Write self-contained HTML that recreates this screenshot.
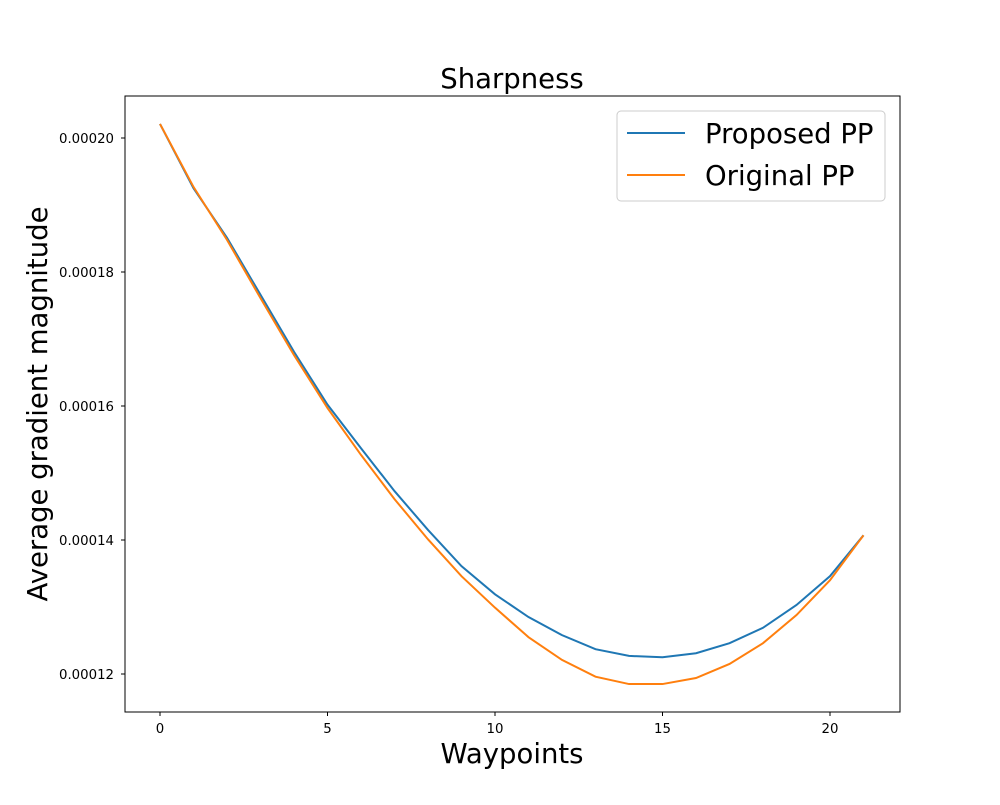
<!DOCTYPE html>
<html><head><meta charset="utf-8"><style>
body{margin:0;background:#fff;}
svg{font-family:"DejaVu Sans","Liberation Sans",sans-serif;}
</style></head><body>
<svg id="chart" width="1000" height="800">
<rect width="1000" height="800" fill="#fff"/>
<text x="512" y="88" font-size="27.5" text-anchor="middle">Sharpness</text>
<text x="512" y="763" font-size="27.5" text-anchor="middle">Waypoints</text>
<text transform="translate(47,404) rotate(-90)" font-size="27.5" text-anchor="middle">Average gradient magnitude</text>
<g id="ticks"></g>
<g id="lines"></g>
<rect x="125" y="96" width="775" height="616" fill="none" stroke="#000" stroke-width="1"/>
<g>
<rect x="617" y="111" width="268" height="90" rx="4" fill="#fff" stroke="#ccc"/>
<line x1="627" y1="133" x2="685" y2="133" stroke="#1f77b4" stroke-width="2"/>
<text x="705" y="143" font-size="27.5">Proposed PP</text>
<line x1="627" y1="175" x2="685" y2="175" stroke="#ff7f0e" stroke-width="2"/>
<text x="705" y="185" font-size="27.5">Original PP</text>
</g>
</svg>
<script>
const waypoints=[0,1,2,3,4,5,6,7,8,9,10,11,12,13,14,15,16,17,18,19,20,21];
const proposed=[202.1e-6,192.5e-6,185.1e-6,176.6e-6,168.1e-6,160.2e-6,153.7e-6,147.3e-6,141.5e-6,136.1e-6,131.9e-6,128.5e-6,125.8e-6,123.7e-6,122.7e-6,122.5e-6,123.1e-6,124.6e-6,126.9e-6,130.3e-6,134.6e-6,140.7e-6];
const original=[202.1e-6,192.7e-6,184.8e-6,176.1e-6,167.6e-6,159.7e-6,152.7e-6,146.1e-6,140.1e-6,134.6e-6,129.9e-6,125.5e-6,122.1e-6,119.6e-6,118.5e-6,118.5e-6,119.4e-6,121.5e-6,124.6e-6,128.8e-6,134.0e-6,140.7e-6];
const xTicks=[0,5,10,15,20];
const yTicks=[0.00012,0.00014,0.00016,0.00018,0.00020];
const yTickLabels=["0.00012","0.00014","0.00016","0.00018","0.00020"];
const NS="http://www.w3.org/2000/svg";
function xs(v){return 160+v*33.5;}
function ys(v){return 674-(v-0.00012)/0.00002*134;}
const tg=document.getElementById('ticks');
xTicks.forEach(t=>{
 const l=document.createElementNS(NS,'line');
 l.setAttribute('x1',xs(t));l.setAttribute('x2',xs(t));l.setAttribute('y1',712);l.setAttribute('y2',716);l.setAttribute('stroke','#000');
 
 
 tg.appendChild(l);
 const tx=document.createElementNS(NS,'text');
 tx.setAttribute('x',xs(t));tx.setAttribute('y',733);tx.setAttribute('font-size','13.3');tx.setAttribute('text-anchor','middle');tx.textContent=t;
 
 
 tg.appendChild(tx);
});
yTicks.forEach((t,i)=>{
 const l=document.createElementNS(NS,'line');
 l.setAttribute('x1',121);l.setAttribute('x2',125);l.setAttribute('y1',ys(t));l.setAttribute('y2',ys(t));l.setAttribute('stroke','#000');
 
 
 tg.appendChild(l);
 const tx=document.createElementNS(NS,'text');
 tx.setAttribute('x',114);tx.setAttribute('y',ys(t)+5);tx.setAttribute('font-size','13.3');tx.setAttribute('text-anchor','end');tx.textContent=yTickLabels[i];
 
 
 tg.appendChild(tx);
});
const lg=document.getElementById('lines');
function addLine(vals,color,name){
 const p=document.createElementNS(NS,'polyline');
 p.setAttribute('points',vals.map((v,i)=>xs(waypoints[i])+','+ys(v)).join(' '));
 p.setAttribute('fill','none');p.setAttribute('stroke',color);p.setAttribute('stroke-width','2');
 
 
 lg.appendChild(p);
}
addLine(proposed,'#1f77b4','proposed-pp-line');
addLine(original,'#ff7f0e','original-pp-line');
</script>
</body></html>
